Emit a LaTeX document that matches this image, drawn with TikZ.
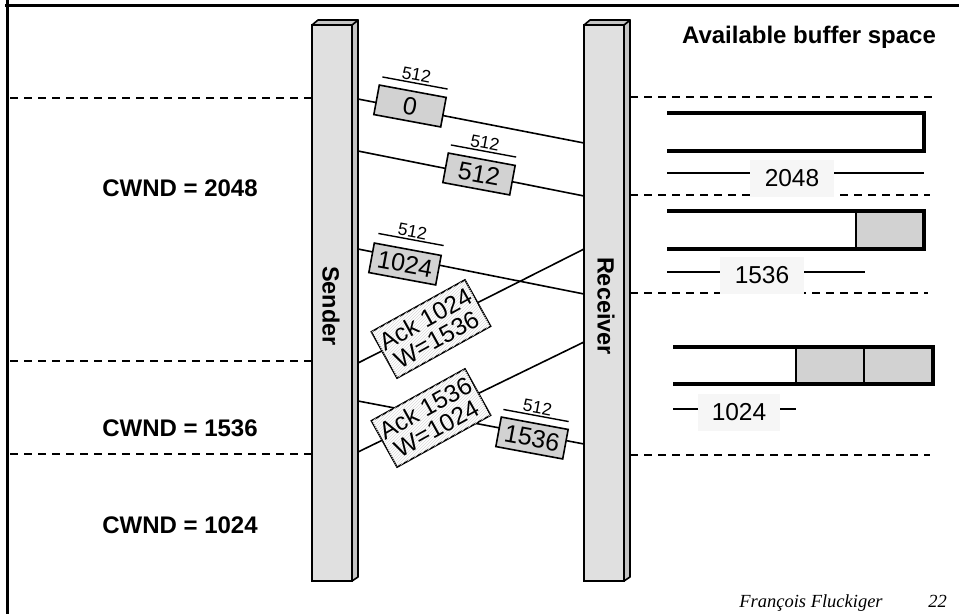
\documentclass[tikz,border=0pt]{standalone}
\usepackage{fontspec}
\setmainfont{Liberation Sans}
\newfontfamily\footfont{Liberation Serif}
\usetikzlibrary{patterns}
\definecolor{barfront}{HTML}{E0E0E0}
\definecolor{barside}{HTML}{C4C4C4}
\definecolor{boxgray}{HTML}{D2D2D2}
\definecolor{labbg}{HTML}{F6F6F6}
\tikzset{
  frameline/.style={line width=3pt},
  sepline/.style={line width=2pt, dash pattern=on 8pt off 6pt},
  barface/.style={draw, line width=1.6pt, fill=barfront},
  barsidef/.style={draw, line width=1.6pt, fill=barside, line join=round},
  msg/.style={line width=1.6pt},
  databox/.style={draw, line width=1.6pt, fill=boxgray, minimum width=68pt, minimum height=30pt, inner sep=0pt, font=\fontsize{25}{25}\selectfont},
  ackbox/.style={draw, line width=1.6pt, fill=white, postaction={pattern=north east lines, pattern color=black!15}, minimum width=107pt, minimum height=53pt, inner sep=0pt, align=center, font=\fontsize{24.5}{23}\selectfont},
  lenlab/.style={minimum width=66pt, inner xsep=0pt, inner ysep=2pt, font=\fontsize{17.5}{17.5}\selectfont},
  lenline/.style={line width=1.4pt},
  bigtext/.style={font=\bfseries\fontsize{24}{24}\selectfont, inner sep=0pt},
  buf/.style={line width=3.2pt, line join=miter},
  bufgray/.style={draw, line width=1.6pt, fill=boxgray},
  dimline/.style={line width=1.4pt},
  dimlab/.style={fill=labbg, minimum width=84pt, minimum height=37pt, inner sep=0pt, font=\fontsize{24.5}{24.5}\selectfont},
  foot/.style={font=\footfont\itshape\fontsize{18.5}{18.5}\selectfont, inner sep=0pt}
}
\begin{document}
\begin{tikzpicture}[x=1pt, y=-1pt]
\useasboundingbox (0,0) rectangle (959,614);
% frame
\draw[frameline] (5,5) -- (959,5);
\draw[frameline] (7,0) -- (7,614);
% separators
\draw[sepline] (10,98) -- (312,98);
\draw[sepline] (630,97) -- (932,97);
\draw[sepline] (630,195) -- (930,195);
\draw[sepline] (630,293) -- (928,293);
\draw[sepline] (10,361) -- (312,361);
\draw[sepline] (10,454) -- (312,454);
\draw[sepline] (630,455) -- (930,455);
% bars
\draw[barsidef] (352,25) -- (358,20) -- (358,577) -- (352,581) -- cycle;
\draw[barsidef] (312,25) -- (318,20) -- (358,20) -- (352,25) -- cycle;
\node[barface, minimum width=40pt, minimum height=556pt, inner sep=0pt] (sender) at (332,303) {};
\node[bigtext, rotate=-90, font=\bfseries\fontsize{23.5}{23.5}\selectfont] (sendlab) at (331,306) {Sender};
\draw[barsidef] (624,25) -- (630,20) -- (630,577) -- (624,581) -- cycle;
\draw[barsidef] (584,25) -- (590,20) -- (630,20) -- (624,25) -- cycle;
\node[barface, minimum width=40pt, minimum height=556pt, inner sep=0pt] (receiver) at (604,303) {};
\node[bigtext, rotate=-90, font=\bfseries\fontsize{23.5}{23.5}\selectfont] (reclab) at (606,306) {Receiver};
% endpoints
\coordinate (s1) at (358,99);  \coordinate (r1) at (584,143);
\coordinate (s2) at (358,151); \coordinate (r2) at (584,196);
\coordinate (s3) at (358,249); \coordinate (r3) at (584,294);
\coordinate (s4) at (358,363); \coordinate (r4) at (584,249);
\coordinate (s5) at (358,452); \coordinate (r5) at (584,342);
\coordinate (s6) at (358,401); \coordinate (r6) at (584,444);
% message lines
\draw[msg] (s1) -- (r1);
\draw[msg] (s2) -- (r2);
\draw[msg] (s3) -- (r3);
\draw[msg] (s4) -- (r4);
\draw[msg] (s6) -- (r6);
\draw[msg] (s5) -- (r5);
% data boxes
\node[databox, rotate=-10.5] (m1) at (410,106) {0};
\node[databox, rotate=-10.5] (m2) at (479,174) {512};
\node[databox, rotate=-10.5] (m3) at (405,264) {1024};
\node[databox, rotate=-10.5] (m6) at (532,438) {1536};
% ack boxes
\node[ackbox, rotate=29] (a1) at (431,329) {Ack 1024\\W=1536};
\node[ackbox, rotate=29] (a2) at (431,418) {Ack 1536\\W=1024};
% length labels
\node[lenlab, rotate=-10.5, anchor=south] (L1) at (415,83) {512};
\draw[lenline] (L1.south west) -- (L1.south east);
\node[lenlab, rotate=-10.5, anchor=south] (L2) at (483.5,151) {512};
\draw[lenline] (L2.south west) -- (L2.south east);
\node[lenlab, rotate=-10.5, anchor=south] (L3) at (411,239.5) {512};
\draw[lenline] (L3.south west) -- (L3.south east);
\node[lenlab, rotate=-10.5, anchor=south] (L6) at (536,415.5) {512};
\draw[lenline] (L6.south west) -- (L6.south east);
% CWND labels
\node[bigtext, anchor=base] (cw1) at (180,196) {CWND = 2048};
\node[bigtext, anchor=base] (cw2) at (180,436) {CWND = 1536};
\node[bigtext, anchor=base] (cw3) at (180,533) {CWND = 1024};
\node[bigtext, anchor=base] (avail) at (809,43) {Available buffer space};
% buffers
\draw[buf] (667,113) -- (924,113) -- (924,151) -- (667,151);
\draw[bufgray] (856,211) rectangle (924,249);
\draw[buf] (667,211) -- (924,211) -- (924,249) -- (667,249);
\draw[bufgray] (796,347) rectangle (864,384);
\draw[bufgray, line width=2.4pt] (864,347) rectangle (933,384);
\draw[buf] (673,347) -- (933,347) -- (933,384) -- (673,384);
% dimension lines
\coordinate (d1a) at (667,173); \coordinate (d1b) at (924,173);
\draw[dimline] (d1a) -- (d1b);
\node[dimlab] (dl1) at (792,178) {2048};
\coordinate (d2a) at (667,272); \coordinate (d2b) at (865,272);
\draw[dimline] (d2a) -- (d2b);
\node[dimlab] (dl2) at (762,275) {1536};
\coordinate (d3a) at (673,409); \coordinate (d3b) at (796,409);
\draw[dimline] (d3a) -- (d3b);
\node[dimlab, minimum width=82pt] (dl3) at (739,412) {1024};
% footer
\node[foot, anchor=base] (author) at (811,607) {François Fluckiger};
\node[foot, anchor=base] (page) at (937.5,607) {22};
\end{tikzpicture}
\end{document}
